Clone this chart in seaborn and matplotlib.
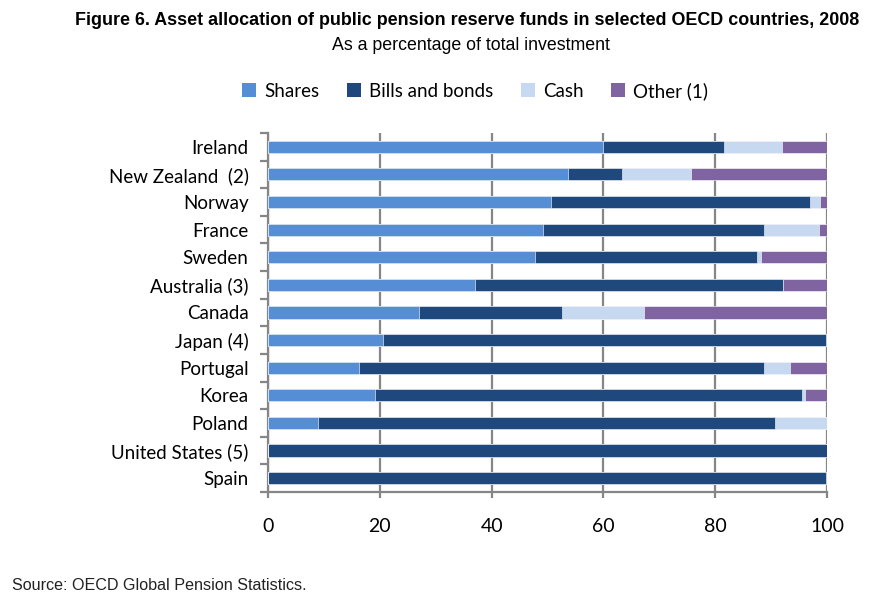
import matplotlib
matplotlib.use("Agg")
import matplotlib.pyplot as plt
import seaborn as sns
import pandas as pd
import numpy as np
from matplotlib.patches import Patch

countries = ["Ireland", "New Zealand  (2)", "Norway", "France", "Sweden", "Australia (3)",
             "Canada", "Japan (4)", "Portugal", "Korea", "Poland", "United States (5)", "Spain"]
shares = [60.0, 53.6, 50.7, 49.2, 47.7, 37.1, 27.0, 20.5, 16.3, 19.1, 9.0, 0.0, 0.0]
bonds = [21.5, 9.8, 46.3, 39.5, 39.8, 55.1, 25.5, 79.4, 72.4, 76.5, 81.7, 100.0, 99.8]
cash = [10.4, 12.3, 1.7, 9.8, 0.6, 0.0, 14.8, 0.0, 4.7, 0.4, 9.3, 0.0, 0.0]
other = [8.1, 24.3, 1.3, 1.5, 11.9, 7.8, 32.7, 0.1, 6.6, 4.0, 0.0, 0.0, 0.2]

series_names = ["Shares", "Bills and bonds", "Cash", "Other (1)"]
colors = ["#558ED5", "#1F497D", "#C6D9F1", "#8064A2"]

df = pd.DataFrame({"country": countries, "Shares": shares, "Bills and bonds": bonds,
                   "Cash": cash, "Other (1)": other})
cum = df[series_names].cumsum(axis=1)

sns.set_theme(style="white")
plt.rcParams["font.family"] = ["Lato", "DejaVu Sans"]
plt.rcParams["text.color"] = "black"

fig = plt.figure(figsize=(8.75, 6.01), dpi=100)
ax = fig.add_axes([0.3063, 0.1814, 0.6389, 0.5973])

for name, col in reversed(list(zip(series_names, colors))):
    sns.barplot(x=cum[name], y=df["country"], orient="h", color=col, width=0.44,
                edgecolor="white", linewidth=0.4, ax=ax, zorder=3, saturation=1)

ax.set_xlim(0, 100)
ax.set_ylim(len(countries) - 0.5, -0.5)
ax.set_xticks([0, 20, 40, 60, 80, 100])
ax.set_xlabel("")
ax.set_ylabel("")
ax.grid(axis="x", color="#868686", linewidth=1.6, zorder=0)
ax.set_axisbelow(True)

for s in ["top", "right"]:
    ax.spines[s].set_visible(False)
for s in ["left", "bottom"]:
    ax.spines[s].set_color("#868686")
    ax.spines[s].set_linewidth(1.6)

ax.tick_params(axis="x", which="major", direction="out", length=4, width=1.6,
               color="#868686", labelsize=14, pad=15, bottom=True)
ax.tick_params(axis="y", which="major", length=0, labelsize=13.5, pad=14)
ax.set_yticks(np.arange(-0.5, len(countries), 1), minor=True)
ax.tick_params(axis="y", which="minor", direction="out", length=6, width=1.6,
               color="#868686", left=True)
for lab in ax.get_yticklabels() + ax.get_xticklabels():
    lab.set_color("#000000")

fig.text(0.534, 0.966, "Figure 6. Asset allocation of public pension reserve funds in selected OECD countries, 2008",
         ha="center", va="center", fontsize=12.9, fontweight="bold", family="Liberation Sans")
fig.text(0.538, 0.924, "As a percentage of total investment", ha="center", va="center",
         fontsize=12.8, family="Liberation Sans")
fig.text(0.014, 0.026, "Source: OECD Global Pension Statistics.", ha="left", va="center",
         fontsize=11.6, family="Liberation Sans", color="#222222")

handles = [Patch(facecolor=c, edgecolor="none", label=n) for n, c in zip(series_names, colors)]
fig.legend(handles=handles, loc="center", bbox_to_anchor=(0.543, 0.849), ncol=4, frameon=False,
           fontsize=13.5, handlelength=0.75, handleheight=0.75, handletextpad=0.4, columnspacing=1.5)

fig.savefig("out.png", dpi=100)
